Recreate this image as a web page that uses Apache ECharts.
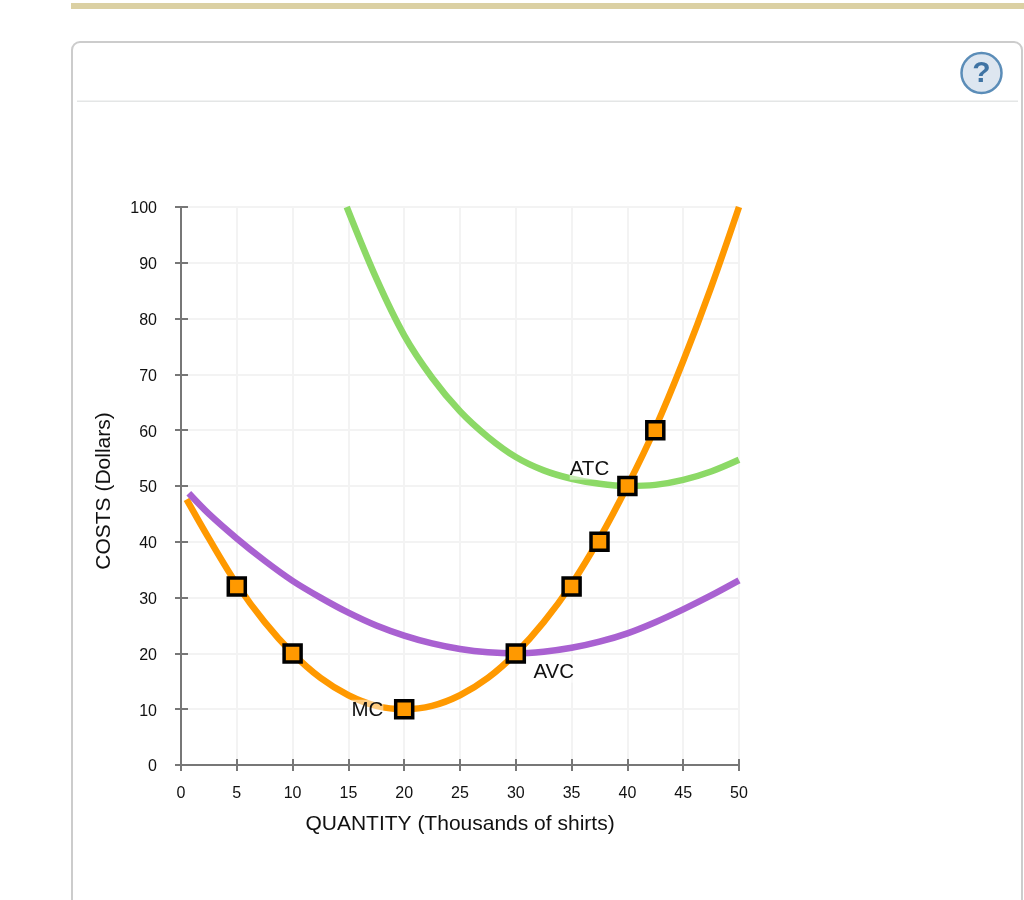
<!DOCTYPE html>
<html>
<head>
<meta charset="utf-8">
<style>html,body{margin:0;padding:0;background:#fff}#c{width:1024px;height:900px}</style>
<script src="https://cdn.jsdelivr.net/npm/echarts@6/dist/echarts.min.js"></script>
</head>
<body>
<div id="c"></div>
<script>
var xTicks = [0, 5, 10, 15, 20, 25, 30, 35, 40, 45, 50];
var yTicks = [0, 10, 20, 30, 40, 50, 60, 70, 80, 90, 100];
var mcX  = [0.5, 2.5, 5, 7.5, 10, 12.5, 15, 17.5, 20, 22.5, 25, 27.5, 30, 32.5, 35, 37.5, 40, 42.5, 45, 47.5, 50];
var mcY  = [47.6, 40.6, 32.4, 25.6, 20, 15.6, 12.5, 10.6, 10, 10.6, 12.5, 15.6, 20, 25.6, 32.4, 40.6, 50, 60.4, 72.4, 85.6, 100];
var atcX = [14.85, 17.5, 20, 22.5, 25, 27.5, 30, 32.5, 35, 37.5, 40, 42.5, 45, 47.5, 50];
var atcY = [100, 87.2, 77, 69.4, 63.4, 58.8, 55.2, 52.8, 51.3, 50.4, 50, 50.2, 51.1, 52.6, 54.7];
var avcX = [0.7, 2.5, 5, 7.5, 10, 12.5, 15, 17.5, 20, 22.5, 25, 27.5, 30, 32.5, 35, 37.5, 40, 42.5, 45, 47.5, 50];
var avcY = [48.7, 45, 40.6, 36.6, 33, 30, 27.3, 25, 23.2, 21.8, 20.8, 20.2, 20, 20.3, 21, 22.1, 23.6, 25.6, 27.9, 30.4, 33.1];
var pointX = [5, 10, 20, 30, 35, 37.5, 40, 42.5];
var pointY = [32, 20, 10, 20, 32, 40, 50, 60];
var curveNames = ["MC", "ATC", "AVC"];
var curveLabelX = [16.7, 36.6, 33.4];
var curveLabelY = [9.8, 53, 16.6];
var xTitle = "QUANTITY (Thousands of shirts)";
var yTitle = "COSTS (Dollars)";

function zip(a, b) { return a.map(function (v, i) { return [v, b[i]]; }); }
var FONT = "'Liberation Sans', Arial, sans-serif";
var AXIS = "#777777", GRID = "#f3f3f3", INK = "#111111";
var SMOOTH = 0.33;

function valueAxis(ticks, extra) {
  return Object.assign({
    type: "value", min: 0, max: ticks[ticks.length - 1], interval: ticks[1] - ticks[0]
  }, extra);
}

var chart = echarts.init(document.getElementById("c"), null, { renderer: "canvas" });
chart.setOption({
  animation: false,
  backgroundColor: "#ffffff",
  grid: { left: 181, top: 207, width: 558, height: 558, containLabel: false },
  xAxis: [
    valueAxis(xTicks, {
      position: "bottom",
      name: xTitle, nameLocation: "middle", nameGap: 49,
      nameTextStyle: { fontFamily: FONT, fontSize: 21, color: INK },
      axisLine: { show: true, onZero: false, lineStyle: { color: AXIS, width: 2 } },
      axisTick: { show: true, length: 6, lineStyle: { color: AXIS, width: 2 } },
      axisLabel: { margin: 21, fontFamily: FONT, fontSize: 16, color: INK, hideOverlap: false, showMinLabel: true, showMaxLabel: true },
      splitLine: { show: true, lineStyle: { color: GRID, width: 2 } }
    }),
    valueAxis(xTicks, {
      position: "bottom",
      axisLine: { show: false, onZero: false },
      axisTick: { show: true, inside: true, length: 6, lineStyle: { color: AXIS, width: 2 } },
      axisLabel: { show: false }, splitLine: { show: false }
    })
  ],
  yAxis: [
    valueAxis(yTicks, {
      position: "left",
      name: yTitle, nameLocation: "middle", nameGap: 66,
      nameTextStyle: { fontFamily: FONT, fontSize: 21, color: INK, padding: [0, 10, 0, 0] },
      axisLine: { show: true, onZero: false, lineStyle: { color: AXIS, width: 2 } },
      axisTick: { show: true, length: 6, lineStyle: { color: AXIS, width: 2 } },
      axisLabel: { margin: 24, fontFamily: FONT, fontSize: 16, color: INK, verticalAlign: "top", lineHeight: 4, hideOverlap: false, showMinLabel: true, showMaxLabel: true },
      splitLine: { show: true, lineStyle: { color: GRID, width: 2 } }
    }),
    valueAxis(yTicks, {
      position: "left",
      axisLine: { show: false, onZero: false },
      axisTick: { show: true, inside: true, length: 7, lineStyle: { color: AXIS, width: 2 } },
      axisLabel: { show: false }, splitLine: { show: false }
    })
  ],
  series: [
    { name: "MC", type: "line", data: zip(mcX, mcY), smooth: SMOOTH, showSymbol: false, symbol: "none", clip: false,
      lineStyle: { color: "#ff9900", width: 6.5 }, z: 3 },
    { name: "ATC", type: "line", data: zip(atcX, atcY), smooth: SMOOTH, showSymbol: false, symbol: "none", clip: false,
      lineStyle: { color: "#8cd966", width: 6.5 }, z: 2 },
    { name: "AVC", type: "line", data: zip(avcX, avcY), smooth: SMOOTH, showSymbol: false, symbol: "none", clip: false,
      lineStyle: { color: "#a961d1", width: 6.5 }, z: 3 },
    { name: "Labels", type: "scatter", data: zip(curveLabelX, curveLabelY), symbolSize: 1, clip: false,
      itemStyle: { color: "rgba(0,0,0,0)", opacity: 1 }, z: 4,
      label: { show: true, position: "inside", fontFamily: FONT, fontSize: 20.5, color: INK, opacity: 1,
        backgroundColor: "rgba(255,255,255,0.5)",
        formatter: function (p) { return curveNames[p.dataIndex]; } } },
    { name: "Points", type: "scatter", data: zip(pointX, pointY), symbol: "rect", symbolSize: 17, clip: false,
      itemStyle: { color: "#ff9900", borderColor: "#000000", borderWidth: 3.5, opacity: 1 }, z: 5 }
  ],
  graphic: [
    { type: "rect", silent: true, z: 10, shape: { x: 71, y: 3, width: 953, height: 6 }, style: { fill: "#dbd0a3" } },
    { type: "rect", silent: true, z: -1, shape: { x: 72, y: 42, width: 950, height: 900, r: 8 }, style: { fill: "none", stroke: "#cccccc", lineWidth: 2 } },
    { type: "rect", silent: true, z: 10, shape: { x: 77, y: 100.5, width: 941, height: 1.5 }, style: { fill: "#e4e6e6" } },
    { type: "circle", silent: true, z: 10, shape: { cx: 981.5, cy: 73, r: 20 }, style: { fill: "#dde6f0", stroke: "#5b8db8", lineWidth: 2.5 } },
    { type: "text", silent: true, z: 11, x: 981.5, y: 74, style: { text: "?", fontFamily: FONT, fontWeight: "bold", fontSize: 30, fill: "#3f73a3", align: "center", verticalAlign: "middle" } }
  ]
});
</script>
</body>
</html>
